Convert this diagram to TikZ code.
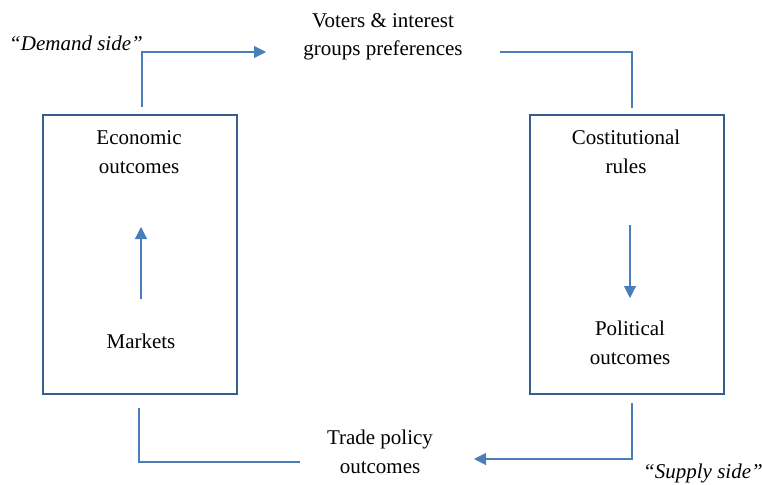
\documentclass[tikz,border=0pt]{standalone}
\usepackage{fontspec}
\setmainfont{Liberation Serif}
\usetikzlibrary{arrows.meta}
\definecolor{boxc}{RGB}{56,93,138}
\definecolor{linec}{RGB}{74,126,187}
\tikzset{
  boxnode/.style={draw=boxc,line width=2.2pt,minimum width=194pt,minimum height=279pt,inner sep=0pt},
  lbl/.style={align=center,font=\fontsize{21}{28.5}\selectfont,inner sep=0pt},
  ilbl/.style={font=\fontsize{21}{28.5}\selectfont\itshape,inner sep=0pt},
  conn/.style={draw=linec,line width=1.1pt},
  arr/.style={conn,-{Triangle[length=12pt,width=12pt]}}
}
\begin{document}
\begin{tikzpicture}[x=1pt,y=-1pt]
\useasboundingbox (0,0) rectangle (762,484);
\node[boxnode] (lbox) at (140,254.5) {};
\node[boxnode] (rbox) at (627,254.5) {};
\node[lbl] (voters) at (383,37) {Voters \& interest\\groups preferences};
\node[ilbl] (demand) at (76,43) {“Demand side”};
\node[lbl] (econ) at (139,152) {Economic\\outcomes};
\node[lbl] (markets) at (141,341) {Markets};
\node[lbl] (const) at (626,152) {Costitutional\\rules};
\node[lbl] (polit) at (630,343) {Political\\outcomes};
\node[lbl] (trade) at (380,452) {Trade policy\\outcomes};
\node[ilbl] (supply) at (703,473) {“Supply side”};
% connectors
\coordinate (tl0) at (142,107);
\coordinate (tl1) at (142,52);
\coordinate (tl2) at (266,52);
\draw[arr] (tl0) -- (tl1) -- (tl2);
\coordinate (tr0) at (500,52);
\coordinate (tr1) at (632,52);
\coordinate (tr2) at (632,108);
\draw[conn] (tr0) -- (tr1) -- (tr2);
\coordinate (br0) at (632,403);
\coordinate (br1) at (632,459);
\coordinate (br2) at (474,459);
\draw[arr] (br0) -- (br1) -- (br2);
\coordinate (bl0) at (300,462);
\coordinate (bl1) at (139,462);
\coordinate (bl2) at (139,408);
\draw[conn] (bl0) -- (bl1) -- (bl2);
\coordinate (li0) at (141,299);
\coordinate (li1) at (141,227);
\draw[arr] (li0) -- (li1);
\coordinate (ri0) at (630,225);
\coordinate (ri1) at (630,298);
\draw[arr] (ri0) -- (ri1);
\end{tikzpicture}
\end{document}
